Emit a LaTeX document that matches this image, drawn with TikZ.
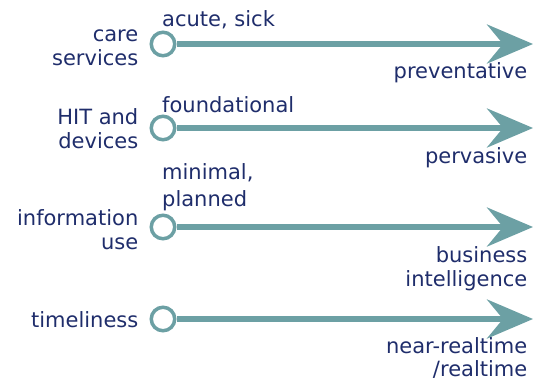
\documentclass[tikz,border=0pt]{standalone}
\usepackage{fontspec}
\setmainfont{DejaVu Sans}
\usetikzlibrary{arrows.meta, positioning}
\definecolor{textnavy}{RGB}{31,45,107}
\definecolor{arrowteal}{RGB}{108,160,164}

\begin{document}
\begin{tikzpicture}[x=1pt, y=-1pt,
    every node/.style={text=textnavy, font=\fontsize{21}{23.5}\selectfont, inner sep=0pt},
    startdot/.style={circle, draw=arrowteal, line width=3.5pt, fill=white, minimum size=23.5pt},
    trend/.style={arrowteal, line width=6pt, -{Stealth[length=46pt, width=39pt, inset=16pt]}},
    dimlabel/.style={align=right, anchor=base east},
    fromlabel/.style={align=left, anchor=base west},
    tolabel/.style={align=right, anchor=base east}]
    \useasboundingbox (0,0) rectangle (537,381);

    % Start circles and ends
    \node[startdot] (care-start) at (163,44) {};
    \node[startdot] (hit-start) at (163,128) {};
    \node[startdot] (info-start) at (163,227) {};
    \node[startdot] (time-start) at (163,319) {};
    \coordinate (care-end) at (533,44);
    \coordinate (hit-end) at (533,128);
    \coordinate (info-end) at (533,227);
    \coordinate (time-end) at (533,319);

    % Arrows
    \draw[trend] (care-start) -- (care-end);
    \draw[trend] (hit-start) -- (hit-end);
    \draw[trend] (info-start) -- (info-end);
    \draw[trend] (time-start) -- (time-end);

    % Topics (base = last line)
    \node[dimlabel] (care-dim) at (138.5,65) {care\\services};
    \node[dimlabel] (hit-dim) at (138.5,148.3) {HIT and\\devices};
    \node[dimlabel] (info-dim) at (138.5,249.3) {information\\use};
    \node[dimlabel] (time-dim) at (138.5,327.7) {timeliness};

    % Starting points
    \node[fromlabel] (care-from) at (162,26.7) {acute, sick};
    \node[fromlabel] (hit-from) at (162,112.3) {foundational};
    \node[fromlabel] (info-from) at (162,206.7) {minimal,\\[4pt]planned};

    % Goals
    \node[tolabel] (care-to) at (527.5,78) {preventative};
    \node[tolabel] (hit-to) at (527.5,163.3) {pervasive};
    \node[tolabel] (info-to) at (527.5,286) {business\\intelligence};
    \node[tolabel] (time-to) at (527.5,376.7) {near-realtime\\/realtime};
\end{tikzpicture}
\end{document}
